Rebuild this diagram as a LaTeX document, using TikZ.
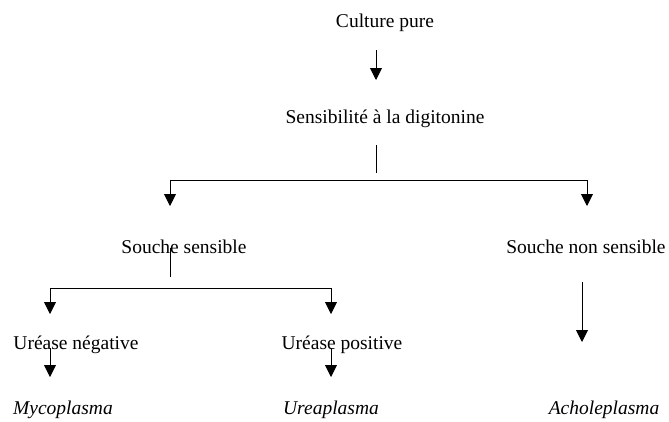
\documentclass[tikz,border=0pt]{standalone}
\usepackage{fontspec}
\setmainfont{Liberation Serif}
\usetikzlibrary{arrows.meta}

\tikzset{
	etape/.style={anchor=base, inner sep=0pt, font=\fontsize{19.5}{23}\selectfont},
	genre/.style={etape, font=\fontsize{19.5}{23}\selectfont\itshape},
	fleche/.style={-{Triangle[width=12pt, length=12pt]}},
}

\begin{document}
\begin{tikzpicture}[x=1pt, y=-1pt, line width=0.9pt]
	\useasboundingbox (0, 0) rectangle (669, 421);
	% texts
	\node [etape] (culture) at (385, 27) {Culture pure};
	\node [etape] (digit) at (385, 123) {Sensibilité à la digitonine};
	\node [etape] (sens) at (184, 253) {Souche sensible};
	\node [etape] (nonsens) at (586, 253) {Souche non sensible};
	\node [etape] (neg) at (76, 349) {Uréase négative};
	\node [etape] (pos) at (342, 349) {Uréase positive};
	\node [genre] (myco) at (63, 414) {Mycoplasma};
	\node [genre] (urea) at (331, 414) {Ureaplasma};
	\node [genre] (achole) at (604, 414) {Acholeplasma};
	% first step
	\draw [fleche] ([xshift=-9pt, yshift=-23pt]culture.base) -- ([xshift=-9pt, yshift=43pt]digit.base);
	\draw ([xshift=-9pt, yshift=-22pt]digit.base) -- ([xshift=-9pt, yshift=-50pt]digit.base);
	\coordinate (g1) at (170, 180);
	\coordinate (d1) at (587, 180);
	\draw (g1) -- (d1);
	\draw [fleche] (g1) -- ++(0, 26);
	\draw [fleche] (d1) -- ++(0, 26);
	% sensible branch
	\draw ([xshift=-14pt, yshift=5pt]sens.base) -- ([xshift=-14pt, yshift=-24pt]sens.base);
	\coordinate (g2) at (50, 288);
	\coordinate (d2) at (331, 288);
	\draw (g2) -- (d2);
	\draw [fleche] (g2) -- ++(0, 26);
	\draw [fleche] (d2) -- ++(0, 26);
	\draw [fleche] ([xshift=-26pt, yshift=1pt]neg.base) -- ++(0, 29);
	\draw [fleche] ([xshift=-11pt, yshift=1pt]pos.base) -- ++(0, 29);
	% non sensible branch
	\draw [fleche] ([xshift=-4pt, yshift=-29pt]nonsens.base) -- ++(0, 60);
\end{tikzpicture}
\end{document}
